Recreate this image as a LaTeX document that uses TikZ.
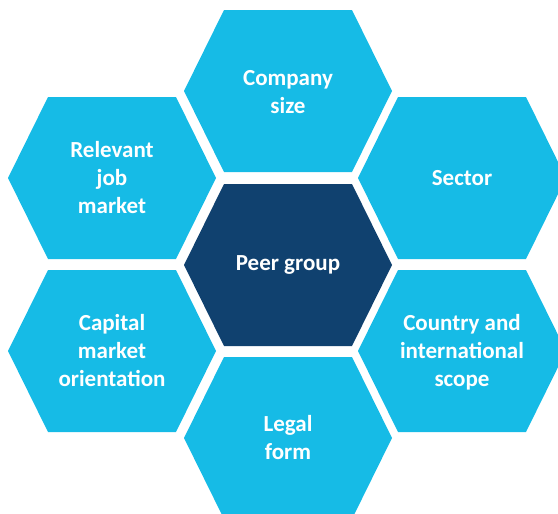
\documentclass[tikz,border=0pt]{standalone}
\usepackage{fontspec}
\setmainfont{Carlito}
\definecolor{lightb}{HTML}{16BBE6}
\definecolor{darkb}{HTML}{10416F}
\tikzset{
  x=1pt, y=-1pt,
  hexlabel/.style={text=white, font=\bfseries\fontsize{23}{28}\selectfont, align=center, inner sep=0pt},
  hexfill/.style={fill=#1}
}
\newcommand\hexcell[3]{%
  \fill[hexfill=#3, shift={(#1,#2)}] (-104,0) -- (-64,-81) -- (64,-81) -- (104,0) -- (64,81) -- (-64,81) -- cycle;}
\begin{document}
\begin{tikzpicture}
\useasboundingbox (0,0) rectangle (558,514);
\clip (0,0) rectangle (558,514);
\hexcell{288}{91}{lightb}
\hexcell{112}{178}{lightb}
\hexcell{462}{178}{lightb}
\hexcell{288}{265}{darkb}
\hexcell{112}{351}{lightb}
\hexcell{462}{351}{lightb}
\hexcell{288}{438}{lightb}
\node[hexlabel] (size) at (288,92) {Company\\size};
\node[hexlabel] (job) at (112,178) {Relevant\\job\\market};
\node[hexlabel] (sector) at (462,178) {Sector};
\node[hexlabel] (peer) at (288,265) {Peer group};
\node[hexlabel] (capital) at (112,351) {Capital\\market\\orientation};
\node[hexlabel] (country) at (462,352) {Country and\\international\\scope};
\node[hexlabel] (legal) at (288,438) {Legal\\form};
\end{tikzpicture}
\end{document}
